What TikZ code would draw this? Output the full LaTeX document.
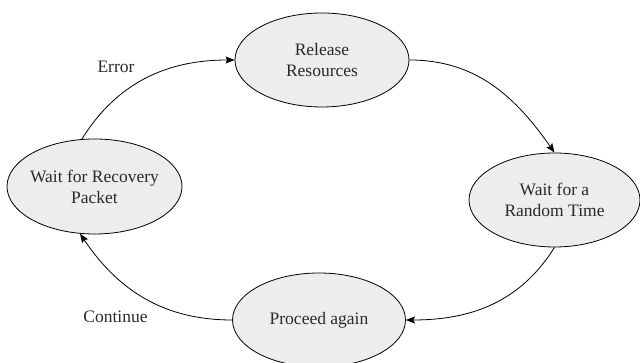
\documentclass[tikz,border=0pt]{standalone}
\usepackage{fontspec}
\setmainfont{Liberation Serif}
\newfontfamily\diagserif{Liberation Serif}
\usetikzlibrary{shapes.geometric,arrows.meta}
\definecolor{statefill}{HTML}{EDEDED}
\definecolor{textgray}{HTML}{2A2A2A}
\tikzset{
  state/.style={ellipse, draw=black, line width=0.8pt, fill=statefill, text=textgray,
    inner xsep=-8pt, inner ysep=0pt, align=center, font=\diagserif\fontsize{17.5}{21}\selectfont},
  edgearrow/.style={draw=black, line width=0.8pt, -{Stealth[length=9pt,width=7pt,inset=1.5pt]}},
  lbl/.style={text=textgray, font=\diagserif\fontsize{17.5}{21}\selectfont, inner sep=0pt}
}
\begin{document}
\begin{tikzpicture}[x=1pt,y=1pt]
\clip (0,0) rectangle (640,363);
\useasboundingbox (0,0) rectangle (640,363);
\node[state, minimum width=174pt, minimum height=94pt] (rel) at (322,303) {Release\\Resources};
\node[state, minimum width=171pt, minimum height=94pt] (rnd) at (554.5,163) {Wait for a\\Random Time};
\node[state, minimum width=175pt, minimum height=95pt] (rec) at (94.5,176.5) {Wait for Recovery\\Packet};
\node[state, minimum width=173pt, minimum height=94pt] (pro) at (319,43) {Proceed again};
\node[lbl] (err) at (116,296) {Error};
\node[lbl] (cont) at (115.5,46) {Continue};
\draw[edgearrow] (rec.105) to[out=58,in=180] (rel.west);
\draw[edgearrow] (rel.east) to[out=0,in=125] (rnd.north);
\draw[edgearrow] (rnd.south) to[out=238,in=0] (pro.east);
\draw[edgearrow] (pro.west) to[out=180,in=-56] (rec.253);
\end{tikzpicture}
\end{document}
